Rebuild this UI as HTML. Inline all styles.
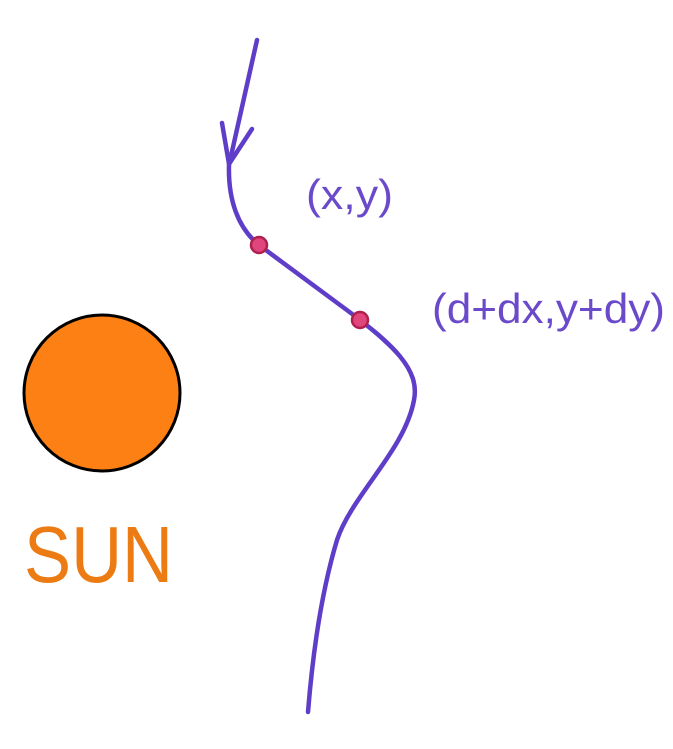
<!DOCTYPE html>
<html><head><style>
html,body{margin:0;padding:0;background:#fff;}
svg{display:block;}
text{font-family:"Liberation Sans",sans-serif;}
</style></head><body>
<svg width="673" height="749" viewBox="0 0 673 749">
<path d="M257,40 L229,165 C228,200 238,228 259,245 L340,305 C395,345 420,370 414,400 C405,450 352,495 337,540 C322,590 313,650 308,712" fill="none" stroke="#5e3ec8" stroke-width="4.5" stroke-linecap="round" stroke-linejoin="round"/>
<path d="M222,123 L229,164 L252,129" fill="none" stroke="#5e3ec8" stroke-width="4.5" stroke-linecap="round" stroke-linejoin="round"/>
<circle cx="259" cy="245" r="8" fill="#e0457b" stroke="#b0204f" stroke-width="2.5"/>
<circle cx="360" cy="320" r="8" fill="#e0457b" stroke="#b0204f" stroke-width="2.5"/>
<text x="306" y="209" font-size="42" fill="#6a4acb" textLength="87" lengthAdjust="spacingAndGlyphs">(x,y)</text>
<text x="432" y="323" font-size="42" fill="#6a4acb" textLength="233" lengthAdjust="spacingAndGlyphs">(d+dx,y+dy)</text>
<circle cx="102" cy="393" r="78" fill="#fd8014" stroke="#000" stroke-width="3"/>
<text x="24" y="582" font-size="80" fill="#ec7b13" textLength="149" lengthAdjust="spacingAndGlyphs">SUN</text>
</svg>
</body></html>
